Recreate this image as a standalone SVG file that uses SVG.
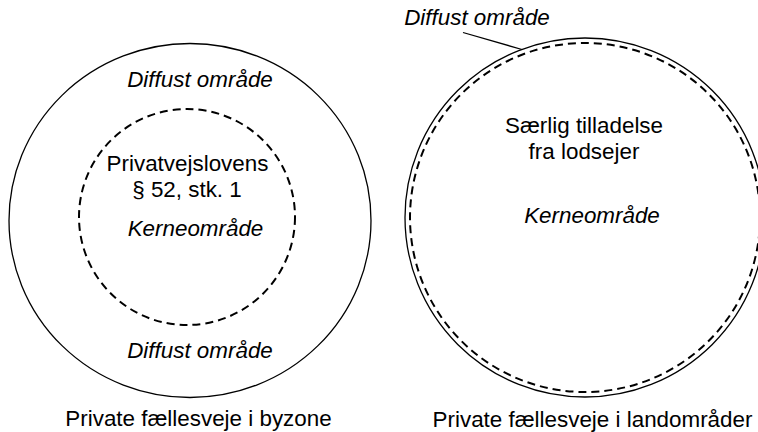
<svg xmlns="http://www.w3.org/2000/svg" width="758" height="432" viewBox="0 0 758 432">
<style>
.solid{fill:none;stroke:#000;stroke-width:1.3}
.dash{fill:none;stroke:#000;stroke-width:2;stroke-dasharray:8 5}
text{font-family:"Liberation Sans",Arial,sans-serif;font-size:22.4px;fill:#000;text-anchor:middle}
.it{font-style:italic}
</style>
<rect width="758" height="432" fill="#fff"/>
<g id="byzone">
<ellipse class="solid" cx="190" cy="220.5" rx="181" ry="177"/>
<text class="it" x="200" y="87">Diffust område</text>
<text class="it" x="200" y="358">Diffust område</text>
<text x="198.5" y="426">Private fællesveje i byzone</text>
</g>
<g id="byzone-kerne">
<circle class="dash" cx="187" cy="217" r="108"/>
<text x="187.5" y="171">Privatvejslovens</text>
<text x="187" y="197">§ 52, stk. 1</text>
<text class="it" x="195.5" y="236">Kerneområde</text>
</g>
<g id="land">
<ellipse class="solid" cx="585" cy="217.5" rx="180" ry="179.5"/>
<text x="592.5" y="427">Private fællesveje i landområder</text>
<text class="it" x="477" y="25">Diffust område</text>
</g>
<g id="land-kerne">
<ellipse class="dash" cx="585" cy="217.5" rx="175" ry="174.5"/>
<text x="584" y="133">Særlig tilladelse</text>
<text x="584" y="159">fra lodsejer</text>
<text class="it" x="592" y="223">Kerneområde</text>
</g>
<g id="connectors">
<line class="solid" x1="463" y1="32.5" x2="522" y2="49.5"/>
</g>
</svg>
